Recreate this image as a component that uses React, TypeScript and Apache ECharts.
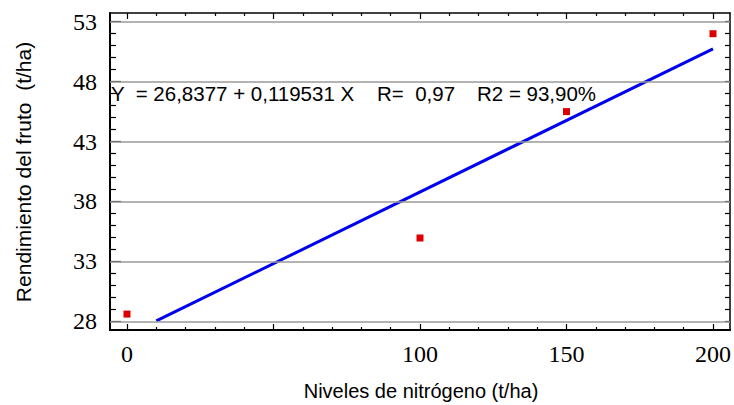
import React, { useEffect, useRef } from "react";
import * as echarts from "echarts";

// ---- data ----
const nitrogenLevels = [0, 100, 150, 200];
const fruitYield = [28.6, 34.95, 45.5, 52.0];
const fitX = [10, 200];
const fitY = [28.03, 50.74];

const xMin = -5.8;
const xMax = 205.8;
const yMin = 27.27;
const yMax = 53.73;

const xLabelValues = [0, 100, 150, 200];
const xMajorTicks = [0, 50, 100, 150, 200];
const xMinorTicks = [10, 20, 30, 40, 60, 70, 80, 90, 110, 120, 130, 140, 160, 170, 180, 190];
const yMajorTicks = [28, 33, 38, 43, 48, 53];
const yMinorTicks = [29, 30, 31, 32, 34, 35, 36, 37, 39, 40, 41, 42, 44, 45, 46, 47, 49, 50, 51, 52];
const yAllTicks = [28, 29, 30, 31, 32, 33, 34, 35, 36, 37, 38, 39, 40, 41, 42, 43, 44, 45, 46, 47, 48, 49, 50, 51, 52, 53];

const eqPart1 = "Y  = 26,8377 + 0,119531 X";
const eqPart2 = "R=  0,97";
const eqPart3 = "R2 = 93,90%";
const xTitle = "Niveles de nitrógeno (t/ha)";
const yTitle = "Rendimiento del fruto  (t/ha)";

const SANS = "Liberation Sans";
const SERIF = "Liberation Serif";

export default function App() {
  const ref = useRef<HTMLDivElement>(null);
  useEffect(() => {
    if (!ref.current) return;
    const chart = echarts.init(ref.current, undefined, { renderer: "svg" });
    const black = "#000";
    const xBase = (position: string, ticks: number[], len: number, showLine: boolean, lw: number, labels: boolean) => ({
      type: "value",
      position,
      min: xMin,
      max: xMax,
      axisLine: { show: showLine, onZero: false, lineStyle: { color: black, width: lw } },
      axisTick: { show: true, inside: true, length: len, customValues: ticks, lineStyle: { color: black, width: 1.2 } },
      axisLabel: labels
        ? { show: true, customValues: xLabelValues, fontFamily: SERIF, fontSize: 24, color: black, margin: 12 }
        : { show: false },
      splitLine: { show: false },
    });
    const yBase = (position: string, ticks: number[], len: number, showLine: boolean, lw: number, labels: boolean) => ({
      type: "value",
      position,
      min: yMin,
      max: yMax,
      axisLine: { show: showLine, onZero: false, lineStyle: { color: black, width: lw } },
      axisTick: { show: true, inside: true, length: len, customValues: ticks, lineStyle: { color: black, width: 1.2 } },
      axisLabel: labels
        ? { show: true, customValues: yMajorTicks, fontFamily: SERIF, fontSize: 24, color: black, margin: 13 }
        : { show: false },
      splitLine: { show: false },
    });
    chart.setOption({
      animation: false,
      backgroundColor: "#fff",
      grid: { left: 110, top: 13, width: 620, height: 317, containLabel: false },
      xAxis: [
        xBase("bottom", xMajorTicks, 6, true, 2, true),
        xBase("bottom", xMinorTicks, 3, false, 1, false),
        xBase("top", xMajorTicks, 6, true, 1.5, false),
        xBase("top", xMinorTicks, 3, false, 1, false),
      ],
      yAxis: [
        yBase("left", yMajorTicks, 11, true, 2, true),
        yBase("left", yMinorTicks, 6, false, 1, false),
        yBase("right", yAllTicks, 5, true, 1.5, false),
      ],
      graphic: [
        { type: "text", x: 111, y: 93, z: 10, style: { text: eqPart1, fontFamily: SANS, fontSize: 20.5, fill: black, verticalAlign: "middle" } },
        { type: "text", x: 377, y: 93, z: 10, style: { text: eqPart2, fontFamily: SANS, fontSize: 20.5, fill: black, verticalAlign: "middle" } },
        { type: "text", x: 477, y: 93, z: 10, style: { text: eqPart3, fontFamily: SANS, fontSize: 20.5, fill: black, verticalAlign: "middle" } },
        { type: "text", x: 421, y: 391, style: { text: xTitle, fontFamily: SANS, fontSize: 20, fill: black, align: "center", verticalAlign: "middle" } },
        { type: "text", x: 23.5, y: 172, rotation: Math.PI / 2, style: { text: yTitle, fontFamily: SANS, fontSize: 21, fill: black, align: "center", verticalAlign: "middle" } },
      ],
      series: [
        {
          type: "line",
          xAxisIndex: 0,
          yAxisIndex: 0,
          data: [],
          z: 1,
          markLine: {
            silent: true,
            symbol: ["none", "none"],
            label: { show: false },
            lineStyle: { color: "#9a9a9a", width: 1.5, type: "solid" },
            data: yMajorTicks.map((v) => ({ yAxis: v })),
          },
        },
        {
          type: "line",
          xAxisIndex: 0,
          yAxisIndex: 0,
          data: fitX.map((x, i) => [x, fitY[i]]),
          showSymbol: false,
          symbol: "none",
          lineStyle: { color: "#0000f0", width: 3 },
          z: 3,
        },
        {
          type: "scatter",
          xAxisIndex: 0,
          yAxisIndex: 0,
          data: nitrogenLevels.map((x, i) => [x, fruitYield[i]]),
          symbol: "rect",
          symbolSize: 7,
          itemStyle: { color: "#dd0000", opacity: 1 },
          z: 4,
        },
      ],
    });
    return () => chart.dispose();
  }, []);
  return <div ref={ref} style={{ position: "absolute", left: 0, top: 0, width: 734, height: 405 }} />;
}
